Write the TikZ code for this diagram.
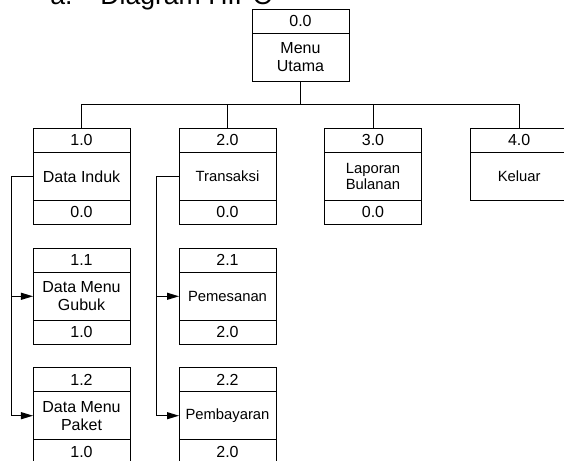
\documentclass[tikz,border=0pt]{standalone}
\usepackage{fontspec}
\setmainfont{Liberation Sans}
\usetikzlibrary{arrows.meta, positioning}

\begin{document}
\begin{tikzpicture}[x=0.5pt, y=-0.5pt,
    numbox/.style={draw, line width=0.5pt, minimum width=48.5pt, minimum height=12pt,
        inner sep=0pt, outer sep=0pt, font=\fontsize{8}{9}\selectfont},
    namebox/.style={numbox, minimum height=24pt, align=center},
    smalltext/.style={font=\fontsize{7.4}{8.2}\selectfont},
    link/.style={line width=0.5pt},
    arrowlink/.style={link, -{Triangle[length=6pt, width=3.5pt]}}]
    \useasboundingbox (0,0) rectangle (564,461);

    % Title (cut at the top)
    \node[anchor=base west, inner sep=0pt, font=\fontsize{13.3}{16}\selectfont] (lbl) at (50,4.5) {a.};
    \node[anchor=base west, inner sep=0pt, font=\fontsize{13.3}{16}\selectfont] (title) at (100,4.5) {Diagram HIPO};

    % Menu utama
    \node[numbox] (n0) at (300.5,21.3) {0.0};
    \node[namebox, below=0pt of n0] (p0) {Menu\\Utama};

    % Level 1
    \node[numbox] (n1) at (81.5,140.3) {1.0};
    \node[namebox, below=0pt of n1] (p1) {Data Induk};
    \node[numbox, below=0pt of p1] (r1) {0.0};

    \node[numbox] (n2) at (227.5,140.3) {2.0};
    \node[namebox, smalltext, below=0pt of n2] (p2) {Transaksi};
    \node[numbox, below=0pt of p2] (r2) {0.0};

    \node[numbox] (n3) at (373,140.3) {3.0};
    \node[namebox, smalltext, below=0pt of n3] (p3) {Laporan\\Bulanan};
    \node[numbox, below=0pt of p3] (r3) {0.0};

    \node[numbox] (n4) at (519.2,140.3) {4.0};
    \node[namebox, smalltext, below=0pt of n4] (p4) {Keluar};

    % Level 2 under Data Induk
    \node[numbox] (n11) at (81.5,260.3) {1.1};
    \node[namebox, below=0pt of n11] (p11) {Data Menu\\Gubuk};
    \node[numbox, below=0pt of p11] (r11) {1.0};

    \node[numbox] (n12) at (81.5,379.7) {1.2};
    \node[namebox, below=0pt of n12] (p12) {Data Menu\\Paket};
    \node[numbox, below=0pt of p12] (r12) {1.0};

    % Level 2 under Transaksi
    \node[numbox] (n21) at (227.5,260.3) {2.1};
    \node[namebox, smalltext, below=0pt of n21] (p21) {Pemesanan};
    \node[numbox, below=0pt of p21] (r21) {2.0};

    \node[numbox] (n22) at (227.5,379.7) {2.2};
    \node[namebox, smalltext, below=0pt of n22] (p22) {Pembayaran};
    \node[numbox, below=0pt of p22] (r22) {2.0};

    % Tree lines
    \coordinate (bus) at (300.5,104.5);
    \draw[link] (p0.south) -- (bus);
    \draw[link] (n1.north) |- (bus) -| (n4.north);
    \draw[link] (n2.north) -- (n2.north |- bus);
    \draw[link] (n3.north) -- (n3.north |- bus);

    % Arrows to sub processes
    \draw[link] (p1.west) -- ++(-21.5,0) coordinate (t1);
    \draw[arrowlink] (t1) |- (p11.west);
    \draw[arrowlink] (t1) |- (p12.west);

    \draw[link] (p2.west) -- ++(-23,0) coordinate (t2);
    \draw[arrowlink] (t2) |- (p21.west);
    \draw[arrowlink] (t2) |- (p22.west);
\end{tikzpicture}
\end{document}
